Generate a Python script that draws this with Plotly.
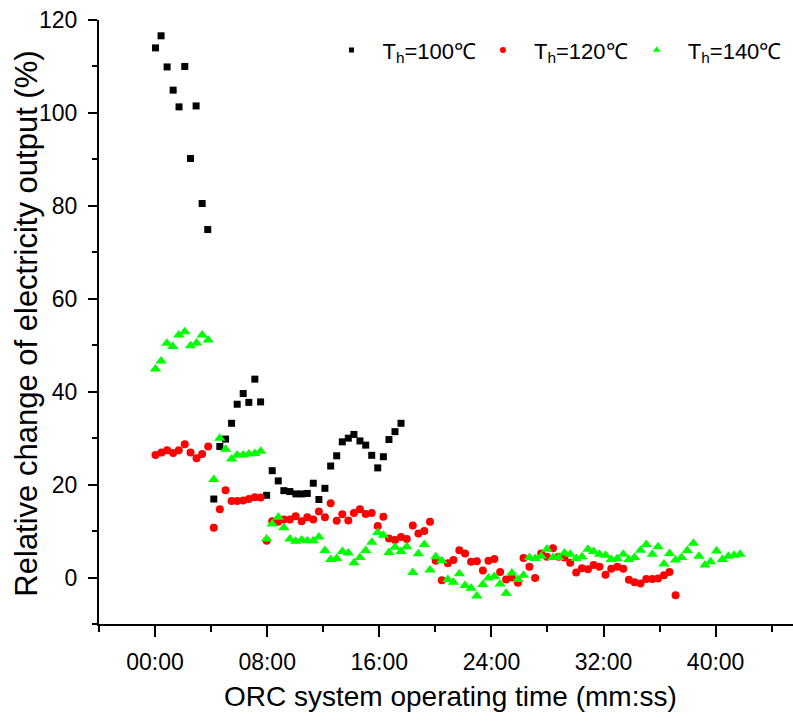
import plotly.graph_objects as go

# ---- data (time in minutes, relative change in %) ----
t100 = [0.03, 0.43, 0.86, 1.29, 1.71, 2.12, 2.53, 2.93, 3.36, 3.76,
        4.19, 4.62, 5.03, 5.46, 5.86, 6.29, 6.69, 7.12, 7.53, 7.96,
        8.36, 8.79, 9.19, 9.62, 10.05, 10.46, 10.86, 11.29, 11.69, 12.12,
        12.53, 12.96, 13.36, 13.79, 14.19, 14.62, 15.03, 15.46, 15.89, 16.29,
        16.69, 17.12, 17.55]
v100 = [114.0, 116.6, 109.9, 104.9, 101.3, 110.0, 90.2, 101.5, 80.5, 74.9,
        16.9, 28.2, 29.8, 33.2, 37.3, 39.6, 37.7, 42.7, 37.8, 17.7,
        23.0, 20.8, 18.7, 18.5, 18.0, 18.0, 18.1, 20.3, 16.8, 19.2,
        24.0, 26.2, 29.2, 30.0, 30.8, 29.4, 28.5, 26.3, 23.6, 26.0,
        29.7, 31.4, 33.2]

t120 = [0.03, 0.46, 0.86, 1.29, 1.69, 2.12, 2.53, 2.96, 3.36, 3.79,
        4.19, 4.62, 5.03, 5.46, 5.86, 6.29, 6.69, 7.12, 7.53,
        7.96, 8.36, 8.79, 9.19, 9.62, 10.03, 10.46, 10.86, 11.29, 11.69,
        12.12, 12.53, 12.96, 13.36, 13.79, 14.19, 14.62, 15.03, 15.46, 15.89,
        16.29, 16.69, 17.12, 17.55, 17.96, 18.39, 18.79, 19.21, 19.62,
        20.03, 20.46, 20.89, 21.29, 21.71, 22.12, 22.55, 22.96, 23.39, 23.79,
        24.21, 24.62, 25.05, 25.46, 25.89, 26.29, 26.71, 27.12, 27.55, 27.96,
        28.39, 28.79, 29.21, 29.62, 30.05, 30.46, 30.89, 31.29, 31.71, 32.14,
        32.55, 32.98, 33.41, 33.81, 34.21, 34.64, 35.05, 35.48, 35.89, 36.31,
        36.71, 37.14]
v120 = [26.4, 26.9, 27.4, 26.8, 27.4, 28.7, 26.9, 25.7, 26.6, 28.2,
        10.7, 14.7, 18.8, 16.5, 16.5, 16.6, 16.9, 17.3, 17.2,
        7.9, 12.1, 12.0, 12.5, 12.5, 13.2, 12.1, 13.0, 12.5, 14.2,
        13.0, 16.0, 12.2, 13.6, 12.3, 13.9, 14.7, 13.7, 13.9, 11.1,
        13.1, 8.4, 8.1, 8.7, 8.3, 11.2, 9.5, 10.0, 12.0,
        3.6, -0.6, 3.1, 3.8, 5.9, 5.2, 3.4, 3.5, 1.5, 3.6,
        4.0, 1.2, -0.4, 0.0, -1.1, 4.2, 2.3, -0.1, 5.2, 4.5,
        6.3, 4.5, 4.3, 3.2, 1.1, 2.0, 1.8, 2.7, 2.3, 0.6,
        1.9, 2.3, 1.9, -0.5, -1.0, -1.3, -0.3, -0.3, -0.2, 0.5,
        1.2, -3.8]

t140 = [0.03, 0.43, 0.84, 1.26, 1.69, 2.12, 2.53, 2.96, 3.36, 3.79,
        4.19, 4.62, 5.03, 5.46, 5.86, 6.29, 6.69, 7.12, 7.53,
        7.96, 8.36, 8.79, 9.19, 9.62, 10.03, 10.46, 10.86, 11.29, 11.69,
        12.12, 12.53, 12.96, 13.36, 13.79, 14.19, 14.62, 15.03, 15.46, 15.89,
        16.29, 16.69, 17.12, 17.55, 17.96, 18.39, 18.79, 19.21, 19.62, 20.03,
        20.46, 20.89, 21.29, 21.71, 22.12, 22.55, 22.96, 23.39, 23.79, 24.21,
        24.62, 25.05, 25.46, 25.89, 26.29, 26.71, 27.12, 27.55, 27.96, 28.39,
        28.79, 29.21, 29.62, 30.05, 30.46, 30.89, 31.29, 31.71, 32.14, 32.55,
        32.98, 33.41, 33.81, 34.21, 34.64, 35.05, 35.48, 35.89, 36.31, 36.71,
        37.14, 37.57, 37.98, 38.41, 38.81, 39.24, 39.64, 40.07, 40.48, 40.91,
        41.31, 41.74]
v140 = [44.9, 46.6, 50.4, 49.7, 52.2, 52.9, 49.9, 50.5, 52.2, 51.1,
        21.1, 30.0, 27.6, 25.5, 26.4, 26.4, 26.6, 26.7, 27.2,
        8.3, 11.5, 13.0, 10.7, 8.3, 7.8, 8.1, 7.9, 7.9, 8.7,
        5.8, 3.9, 4.1, 5.6, 5.3, 3.2, 4.3, 5.8, 7.6, 9.7,
        9.1, 5.4, 6.5, 5.6, 6.6, 1.1, 5.1, 7.1, 1.6, 4.5,
        3.6, -0.4, -1.0, 0.8, -1.7, -2.3, -4.0, -1.5, -0.1, 0.2,
        -1.4, -3.4, 1.0, -0.4, 0.5, 4.3, 4.1, 4.6, 6.1, 4.3,
        4.3, 5.3, 5.0, 4.1, 4.5, 6.1, 5.6, 5.0, 4.8, 3.9,
        4.1, 5.0, 3.9, 4.3, 5.9, 7.1, 5.0, 6.6, 2.9, 5.2,
        3.8, 4.3, 5.8, 7.4, 4.6, 2.7, 3.4, 5.7, 3.9, 4.6,
        4.8, 5.0]

series_names = ["T<sub>h</sub>=100℃", "T<sub>h</sub>=120℃", "T<sub>h</sub>=140℃"]
x_tick_vals = [0, 8, 16, 24, 32, 40]
x_tick_text = ["00:00", "08:00", "16:00", "24:00", "32:00", "40:00"]
y_tick_vals = [0, 20, 40, 60, 80, 100, 120]
x_title = "ORC system operating time (mm:ss)"
y_title = "Relative change of electricity output (%)"

FONT = "Liberation Sans, Arial, sans-serif"

styles = [("square", "#000000", 7, 5), ("circle", "#ff0000", 8, 6), ("triangle-up", "#00ff00", 10, 7)]
legend_ids = ["legend", "legend2", "legend3"]
legend_x = [0.418, 0.609, 0.803]
data = [(t100, v100), (t120, v120), (t140, v140)]

fig = go.Figure()
for (tx, vy), (sym, col, sz, lsz) in zip(data, styles):
    fig.add_trace(go.Scatter(x=tx, y=vy, mode="markers", showlegend=False,
                             marker=dict(symbol=sym, color=col, size=sz, line=dict(width=0))))
for (sym, col, sz, lsz), nm, lid in zip(styles, series_names, legend_ids):
    fig.add_trace(go.Scatter(x=[None], y=[None], mode="markers", name="\u2002" + nm,
                             legend=lid,
                             marker=dict(symbol=sym, color=col, size=lsz, line=dict(width=0))))

leg_common = dict(xref="container", yref="container", xanchor="left", y=0.960, yanchor="top",
                  font=dict(family=FONT, size=22, color="black"), bgcolor="rgba(0,0,0,0)",
                  borderwidth=0)
legends = {lid: dict(x=lx, **leg_common) for lid, lx in zip(legend_ids, legend_x)}

fig.update_layout(
    width=793, height=728,
    margin=dict(l=99, r=0, t=20, b=104, autoexpand=False),
    paper_bgcolor="white", plot_bgcolor="white",
    showlegend=True,
    **legends,
    xaxis=dict(range=[-4, 45.52], showline=True, linecolor="black", linewidth=2,
               showgrid=False, zeroline=False, mirror=False,
               tickmode="array", tickvals=x_tick_vals, ticktext=x_tick_text,
               ticks="outside", ticklen=11, tickwidth=2, tickcolor="black",
               minor=dict(dtick=4, tick0=0, ticks="outside", ticklen=6, tickwidth=2, tickcolor="black"),
               tickfont=dict(family=FONT, size=23, color="black"),
               ticklabelstandoff=5),
    yaxis=dict(range=[-10, 120], showline=True, linecolor="black", linewidth=2,
               showgrid=False, zeroline=False, mirror=False,
               tickmode="array", tickvals=y_tick_vals,
               ticks="outside", ticklen=9, tickwidth=2, tickcolor="black",
               minor=dict(dtick=10, tick0=0, ticks="outside", ticklen=5, tickwidth=2, tickcolor="black"),
               tickfont=dict(family=FONT, size=23, color="black"),
               ticklabelstandoff=6),
    annotations=[
        dict(text=x_title, xref="paper", yref="paper", x=0.506, y=-0.12,
             xanchor="center", yanchor="middle", showarrow=False,
             font=dict(family=FONT, size=28, color="black")),
        dict(text=y_title, xref="paper", yref="paper", x=-0.105, y=0.4975,
             xanchor="center", yanchor="middle", textangle=-90, showarrow=False,
             font=dict(family=FONT, size=31, color="black")),
    ],
)

fig.write_html("out.html")
